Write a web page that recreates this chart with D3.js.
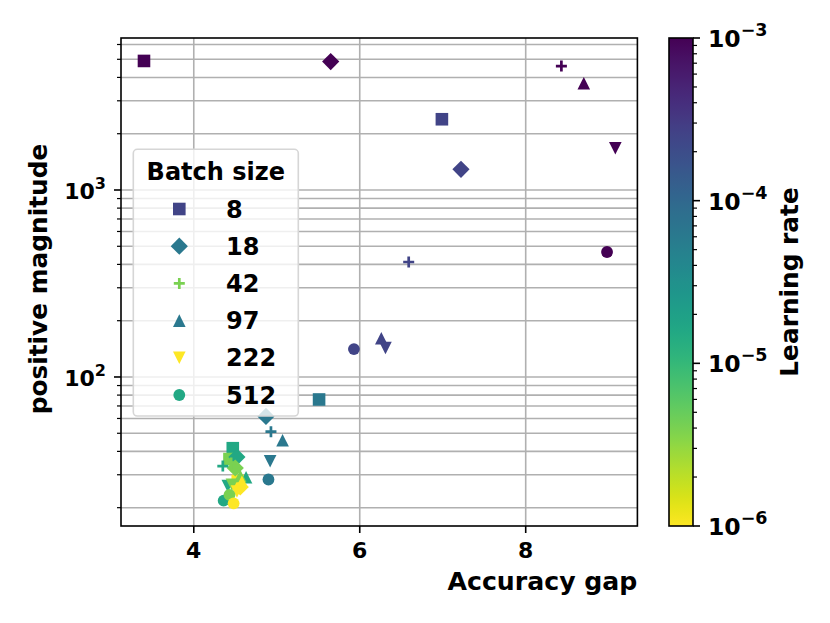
<!DOCTYPE html>
<html>
<head>
<meta charset="utf-8">
<script src="https://cdn.jsdelivr.net/npm/d3@7/dist/d3.min.js"></script>
<style>
body { margin: 0; background: #fff; }
text { font-family: "DejaVu Sans", sans-serif; font-weight: bold; fill: #000; }
</style>
</head>
<body>
<svg id="chart"></svg>
<script>
// batch sizes and their markers
const batchSizes = [8, 18, 42, 97, 222, 512];
const markerShapes = ['square', 'diamond', 'plus', 'triangle-up', 'triangle-down', 'circle'];
// learning rates (one row of points each)
const learningRates = [1e-3, 2.51e-4, 6.31e-5, 1.58e-5, 3.98e-6, 1e-6];

// accuracy gap, ordered like batchSizes
const gapLr1 = [3.40, 5.65, 8.43, 8.70, 9.08, 8.98];
const gapLr2 = [6.99, 7.22, 6.59, 6.26, 6.31, 5.93];
const gapLr3 = [5.51, 4.87, 4.93, 5.07, 4.92, 4.90];
const gapLr4 = [4.47, 4.52, 4.35, 4.63, 4.41, 4.36];
const gapLr5 = [4.43, 4.50, 4.45, 4.56, 4.46, 4.43];
const gapLr6 = [4.53, 4.56, 4.52, 4.58, 4.52, 4.48];

// positive magnitude, ordered like batchSizes
const magLr1 = [4900, 4860, 4600, 3725, 1672, 466];
const magLr2 = [2390, 1290, 412, 161, 143, 141];
const magLr3 = [75.8, 61.5, 51.0, 45.9, 35.4, 28.3];
const magLr4 = [41.6, 37.3, 33.4, 29.1, 26.1, 21.8];
const magLr5 = [36.4, 32.6, 34.7, 29.6, 26.5, 23.4];
const magLr6 = [27.8, 25.8, 26.8, 27.5, 24.4, 21.1];

// colour shown for each legend entry
const legendLr = [2.51e-4, 6.31e-5, 3.98e-6, 6.31e-5, 1e-6, 1.58e-5];

const xTicks = [4, 6, 8];
const yMajorTicks = [100, 1000];
const yTickExp = ['2', '3'];
const cbarMajorTicks = [1e-6, 1e-5, 1e-4, 1e-3];
const cbarTickExp = ['\u22126', '\u22125', '\u22124', '\u22123'];

const gaps = [gapLr1, gapLr2, gapLr3, gapLr4, gapLr5, gapLr6];
const mags = [magLr1, magLr2, magLr3, magLr4, magLr5, magLr6];

const W = 830, H = 623;
const plot = {l: 121, r: 637.4, t: 38, b: 526};
const cbar = {l: 669, r: 693, t: 38, b: 526};

const svg = d3.select('#chart').attr('width', W).attr('height', H);

const x = d3.scaleLinear().domain([3.123, 9.346]).range([plot.l, plot.r]);
const y = d3.scaleLog().domain([15.96, 6500]).range([plot.b, plot.t]);
const color = d3.scaleSequentialLog(t => d3.interpolateViridis(1 - t)).domain([1e-6, 1e-3]);

// flatten points: draw batch size by batch size
const points = [];
batchSizes.forEach((b, j) => {
	learningRates.forEach((lr, i) => {
		points.push({batch: b, shape: markerShapes[j], lr: lr, gap: gaps[i][j], mag: mags[i][j]});
	});
});

function markerPath(shape){
	const s = 6.3;
	if(shape === 'square') return `M${-s},${-s}H${s}V${s}H${-s}Z`;
	if(shape === 'diamond'){ const d = 8.6; return `M0,${-d}L${d},0L0,${d}L${-d},0Z`; }
	if(shape === 'triangle-up') return `M0,${-s}L${s},${s}L${-s},${s}Z`;
	if(shape === 'triangle-down') return `M0,${s}L${s},${-s}L${-s},${-s}Z`;
	if(shape === 'plus') return `M-5.5,0H5.5M0,-5.5V5.5`;
	return d3.symbol(d3.symbolCircle, Math.PI * 5.9 * 5.9)();
}
function drawMarker(sel, d, col){
	const p = sel.append('path').attr('d', markerPath(d));
	if(d === 'plus') p.attr('fill', 'none').attr('stroke', col).attr('stroke-width', 2.7);
	else p.attr('fill', col);
	return p;
}

// grid
const grid = svg.append('g');
grid.selectAll('.gx').data(xTicks).enter().append('line')
	.attr('x1', d => x(d)).attr('x2', d => x(d))
	.attr('y1', plot.t).attr('y2', plot.b)
	.attr('stroke', '#b0b0b0').attr('stroke-width', 1.6);
const yAllTicks = y.ticks().filter(d => d >= 20 && d <= 6000);
grid.selectAll('.gy').data(yAllTicks).enter().append('line')
	.attr('x1', plot.l).attr('x2', plot.r)
	.attr('y1', d => y(d)).attr('y2', d => y(d))
	.attr('stroke', '#b0b0b0').attr('stroke-width', 1.6);

// points
const marks = svg.append('g');
points.forEach(p => {
	const g = marks.append('g').attr('transform', `translate(${x(p.gap)},${y(p.mag)})`);
	drawMarker(g, p.shape, color(p.lr));
});

// spines
svg.append('rect')
	.attr('x', plot.l).attr('y', plot.t)
	.attr('width', plot.r - plot.l).attr('height', plot.b - plot.t)
	.attr('fill', 'none').attr('stroke', '#000').attr('stroke-width', 1.6);

// x ticks
const xt = svg.append('g');
xTicks.forEach(v => {
	xt.append('line').attr('x1', x(v)).attr('x2', x(v))
		.attr('y1', plot.b).attr('y2', plot.b + 7).attr('stroke', '#000').attr('stroke-width', 1.6);
	xt.append('text').attr('x', x(v)).attr('y', plot.b + 32)
		.attr('text-anchor', 'middle').style('font-size', '22px').text(v);
});

// y ticks
const yt = svg.append('g');
yAllTicks.forEach(v => {
	const major = yMajorTicks.includes(v);
	yt.append('line').attr('x1', plot.l).attr('x2', plot.l - (major ? 7 : 4))
		.attr('y1', y(v)).attr('y2', y(v)).attr('stroke', '#000').attr('stroke-width', major ? 1.6 : 1.2);
});
yMajorTicks.forEach((v, i) => {
	const t = yt.append('text').attr('x', 106).attr('y', y(v) + 9)
		.attr('text-anchor', 'end').style('font-size', '22px');
	t.append('tspan').text('10');
	t.append('tspan').attr('dy', -10).style('font-size', '16px').text(yTickExp[i]);
});

// axis labels
svg.append('text').attr('x', plot.r).attr('y', 590)
	.attr('text-anchor', 'end').style('font-size', '25.2px').text('Accuracy gap');
svg.append('text').attr('transform', `translate(47,${(plot.t + plot.b) / 2 - 3}) rotate(-90)`)
	.attr('text-anchor', 'middle').style('font-size', '24.8px').text('positive magnitude');

// legend
const lg = svg.append('g');
lg.append('rect').attr('x', 133.3).attr('y', 149.3).attr('width', 165).attr('height', 266.7)
	.attr('rx', 4).attr('fill', '#fff').attr('fill-opacity', 0.8)
	.attr('stroke', '#d6d6d6').attr('stroke-width', 1.6);
lg.append('text').attr('x', 215.8).attr('y', 179.5).attr('text-anchor', 'middle')
	.style('font-size', '24px').text('Batch size');
batchSizes.forEach((b, i) => {
	const ry = 209 + i * 37.2;
	const g = lg.append('g').attr('transform', `translate(179.3,${ry})`);
	drawMarker(g, markerShapes[i], color(legendLr[i]));
	lg.append('text').attr('x', 226).attr('y', ry + 8.5).style('font-size', '24px').text(b);
});

// colorbar
const cy = d3.scaleLog().domain([1e-6, 1e-3]).range([cbar.b, cbar.t]);
const defs = svg.append('defs');
const grad = defs.append('linearGradient').attr('id', 'cbgrad')
	.attr('x1', 0).attr('y1', 1).attr('x2', 0).attr('y2', 0);
d3.range(0, 1.0001, 0.02).forEach(t => {
	grad.append('stop').attr('offset', t).attr('stop-color', d3.interpolateViridis(1 - t));
});
svg.append('rect').attr('x', cbar.l).attr('y', cbar.t)
	.attr('width', cbar.r - cbar.l).attr('height', cbar.b - cbar.t)
	.attr('fill', 'url(#cbgrad)').attr('stroke', '#000').attr('stroke-width', 1.6);
const cTicks = cy.ticks().filter(d => d >= 1e-6 && d <= 1e-3);
const ct = svg.append('g');
cTicks.forEach(v => {
	const major = cbarMajorTicks.some(m => Math.abs(m - v) / m < 1e-6);
	ct.append('line').attr('x1', cbar.r).attr('x2', cbar.r + (major ? 7 : 4))
		.attr('y1', cy(v)).attr('y2', cy(v)).attr('stroke', '#000').attr('stroke-width', major ? 1.6 : 1.2);
});
cbarMajorTicks.forEach((v, i) => {
	const t = ct.append('text').attr('x', 708).attr('y', cy(v) + 9).style('font-size', '23.5px');
	t.append('tspan').text('10');
	t.append('tspan').attr('dy', -11).style('font-size', '17.5px').text(cbarTickExp[i]);
});
svg.append('text').attr('transform', `translate(798,${(cbar.t + cbar.b) / 2}) rotate(-90)`)
	.attr('text-anchor', 'middle').style('font-size', '24.8px').text('Learning rate');
</script>
</body>
</html>
